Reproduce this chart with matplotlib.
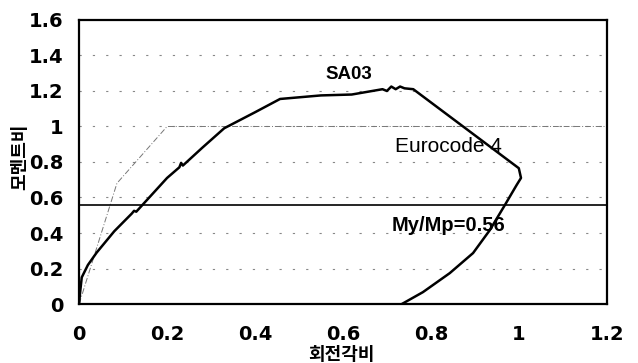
import matplotlib.pyplot as plt

# SA03 moment ratio vs rotation ratio
sa03_x = [0, 0.002, 0.006, 0.02, 0.04, 0.08, 0.12, 0.125, 0.13, 0.2, 0.228, 0.232, 0.236,
          0.28, 0.33, 0.4, 0.457, 0.55, 0.62, 0.69, 0.70, 0.71, 0.72, 0.73, 0.74, 0.76,
          1.0, 1.005, 0.995, 0.968, 0.934, 0.896, 0.843, 0.782, 0.734]
sa03_y = [0, 0.06, 0.15, 0.22, 0.29, 0.41, 0.51, 0.525, 0.52, 0.71, 0.77, 0.795, 0.78,
          0.88, 0.99, 1.08, 1.155, 1.175, 1.18, 1.21, 1.20, 1.225, 1.21, 1.225, 1.215, 1.21,
          0.765, 0.71, 0.67, 0.556, 0.416, 0.287, 0.174, 0.067, 0]

# Eurocode 4 line
ec4_x = [0, 0.086, 0.2, 1.2]
ec4_y = [0, 0.68, 1.0, 1.0]

my_mp = 0.56

xticks = [0, 0.2, 0.4, 0.6, 0.8, 1, 1.2]
xlabels = ['0', '0.2', '0.4', '0.6', '0.8', '1', '1.2']
yticks = [0, 0.2, 0.4, 0.6, 0.8, 1, 1.2, 1.4, 1.6]
ylabels = ['0', '0.2', '0.4', '0.6', '0.8', '1', '1.2', '1.4', '1.6']

fig = plt.figure(figsize=(6.38, 3.63), dpi=100)
ax = fig.add_axes([0.124, 0.1625, 0.827, 0.7825])

for v in yticks[1:-1]:
    ax.axhline(v, color='#888888', lw=0.8, linestyle=(0, (2, 10)), zorder=1)

ax.plot(ec4_x, ec4_y, color='#777777', lw=0.7, linestyle=(0, (6, 2, 1, 2)), zorder=2)
ax.axhline(my_mp, color='black', lw=1.2, zorder=3)
ax.plot(sa03_x, sa03_y, color='black', lw=1.8, zorder=4)

sans = ['Liberation Sans', 'DejaVu Sans']
ax.text(0.614, 1.29, 'SA03', family=sans, fontsize=13.5, fontweight='bold',
        ha='center', va='center')
ax.text(0.84, 0.89, 'Eurocode 4', family=sans, fontsize=15,
        ha='center', va='center')
ax.text(0.84, 0.44, 'My/Mp=0.56', family=sans, fontsize=14.5, fontweight='bold',
        ha='center', va='center')

ax.set_xlim(0, 1.2)
ax.set_ylim(0, 1.6)
ax.set_xticks(xticks)
ax.set_xticklabels(xlabels)
ax.set_yticks(yticks)
ax.set_yticklabels(ylabels)
ax.tick_params(length=0, labelsize=14)
ax.tick_params(axis='x', pad=15)
ax.tick_params(axis='y', pad=11)
for lab in ax.get_xticklabels() + ax.get_yticklabels():
    lab.set_fontweight('bold')
    lab.set_family('DejaVu Sans')
for s in ax.spines.values():
    s.set_linewidth(1.6)

kr = ['Noto Sans CJK KR', 'DejaVu Sans']
fig.text(0.031, 0.567, '모멘트비', family=kr, fontsize=13, fontweight='bold',
         rotation=90, ha='center', va='center')
fig.text(0.535, 0.024, '회전각비', family=kr, fontsize=13, fontweight='bold',
         ha='center', va='center')

fig.savefig('out.png', dpi=100)
